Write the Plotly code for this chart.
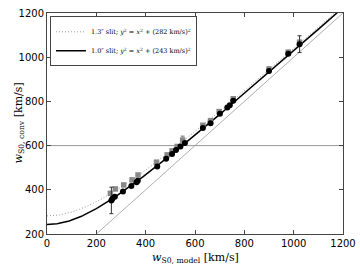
import numpy as np
import plotly.graph_objects as go

# 1.0" slit measurements (black circles)
x_10 = [261, 265, 275, 308, 342, 363, 368, 447, 483, 507, 523, 541, 559, 632, 663, 701, 731, 741, 755, 900, 978, 1024]
y_10 = [352, 360, 369, 392, 417, 434, 441, 505, 540, 562, 580, 596, 612, 680, 701, 744, 772, 783, 803, 937, 1016, 1059]
err_10 = [60, 0, 0, 0, 0, 0, 0, 0, 0, 0, 0, 0, 0, 0, 0, 0, 0, 0, 0, 0, 0, 38]

# 1.3" slit measurements (grey squares)
x_13 = [257, 277, 311, 345, 369, 444, 487, 507, 528, 550, 632, 663, 698, 755, 900, 978, 1024]
y_13 = [384, 404, 422, 445, 467, 525, 558, 576, 596, 625, 692, 713, 754, 812, 946, 1023, 1068]
err_13 = [0, 0, 0, 0, 0, 0, 0, 0, 0, 18, 0, 0, 0, 0, 10, 0, 0]

# model curve offsets (km/s)
c_13 = 282
c_10 = 243
curve_x = np.linspace(0, 1200, 241)

fig = go.Figure()

# reference lines
fig.add_trace(go.Scatter(x=[0, 1200], y=[600, 600], mode="lines",
                         line=dict(color="#999999", width=1), showlegend=False, hoverinfo="skip"))
fig.add_trace(go.Scatter(x=[200, 1200], y=[200, 1200], mode="lines",
                         line=dict(color="#999999", width=0.8), showlegend=False, hoverinfo="skip"))

# model curves
fig.add_trace(go.Scatter(x=curve_x, y=np.sqrt(curve_x**2 + c_13**2), mode="lines",
                         line=dict(color="#999999", width=1, dash="1px,2px"),
                         name="1.3″ slit; <i>y</i><sup>2</sup> = <i>x</i><sup>2</sup> + (282 km/s)<sup>2</sup>"))
fig.add_trace(go.Scatter(x=curve_x, y=np.sqrt(curve_x**2 + c_10**2), mode="lines",
                         line=dict(color="black", width=1.5),
                         name="1.0″ slit; <i>y</i><sup>2</sup> = <i>x</i><sup>2</sup> + (243 km/s)<sup>2</sup>"))

# data points
fig.add_trace(go.Scatter(x=x_13, y=y_13, mode="markers",
                         marker=dict(symbol="square", color="#888888", size=5.5),
                         error_y=dict(type="data", array=err_13, color="#777777", thickness=1, width=2),
                         showlegend=False))
fig.add_trace(go.Scatter(x=x_10, y=y_10, mode="markers",
                         marker=dict(symbol="circle", color="black", size=6),
                         error_y=dict(type="data", array=err_10, color="#333333", thickness=1, width=2),
                         showlegend=False))

axis_common = dict(showgrid=False, zeroline=False, showline=True, linecolor="#444444", linewidth=1,
                   mirror="ticks", ticks="inside", ticklen=4, tickcolor="#444444", automargin=False,
                   tickfont=dict(family="DejaVu Sans", size=10, color="black"))

fig.update_layout(
    width=360, height=270,
    margin=dict(l=47, r=17, t=13, b=36),
    paper_bgcolor="white", plot_bgcolor="white",
    font=dict(family="DejaVu Serif", color="black"),
    xaxis=dict(range=[0, 1200], tickvals=[0, 200, 400, 600, 800, 1000, 1200], **axis_common),
    yaxis=dict(range=[200, 1200], tickvals=[200, 400, 600, 800, 1000, 1200], **axis_common),
    legend=dict(x=0.01, y=0.985, xanchor="left", yanchor="top",
                bgcolor="white", bordercolor="#444444", borderwidth=1,
                font=dict(size=6.5, family="DejaVu Serif"), tracegroupgap=0, itemwidth=30),
    showlegend=True,
    annotations=[
        dict(text="<i>w</i><sub>S0, model</sub> [km/s]", xref="paper", yref="paper",
             x=0.5, y=0, yshift=-24, xanchor="center", yanchor="middle", showarrow=False,
             font=dict(size=11, family="DejaVu Serif")),
        dict(text="<i>w</i><sub>S0, conv</sub> [km/s]", xref="paper", yref="paper",
             x=0, y=0.5, xshift=-29, xanchor="center", yanchor="middle", textangle=-90, showarrow=False,
             font=dict(size=11, family="DejaVu Serif")),
    ],
)

fig.write_html("out.html", config={"displayModeBar": False},
               post_script="document.body.style.margin='0';document.body.style.overflow='hidden';")
